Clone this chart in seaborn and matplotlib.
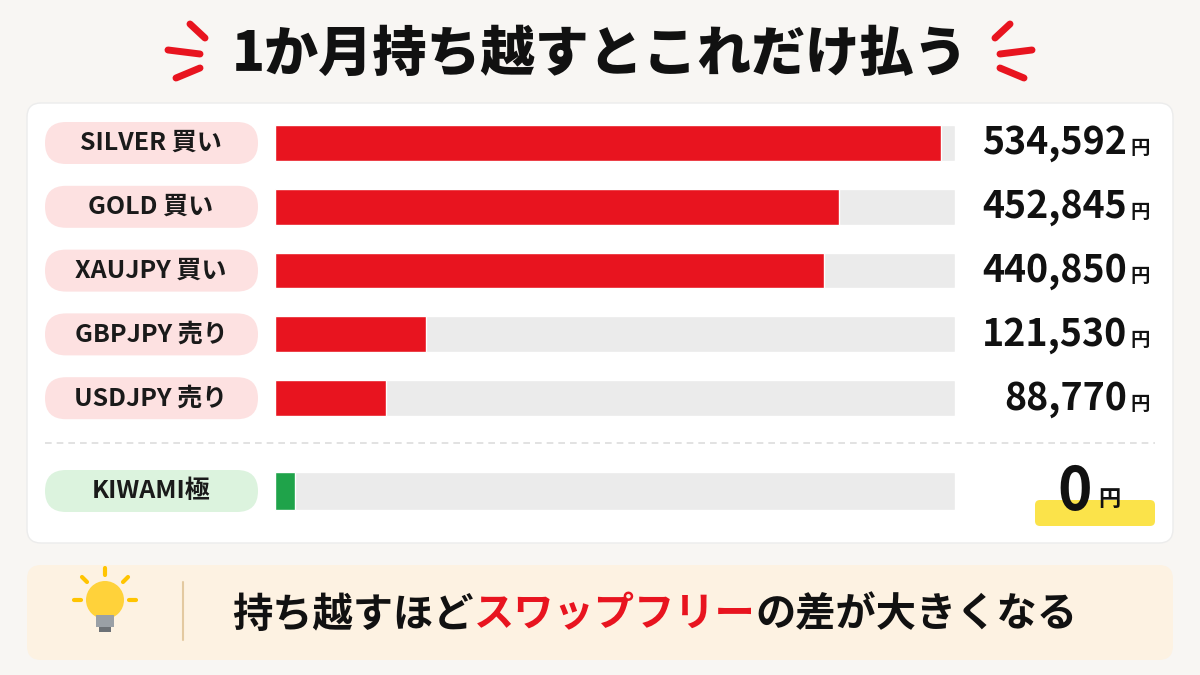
import matplotlib
matplotlib.use('agg')
import matplotlib.pyplot as plt
import seaborn as sns
import pandas as pd
from matplotlib.patches import FancyBboxPatch, Rectangle, Circle

sns.set_theme(style='white')
plt.rcParams['font.family'] = ['Noto Sans CJK JP', 'DejaVu Sans']

# data
labels = ['SILVER 買い', 'GOLD 買い', 'XAUJPY 買い', 'GBPJPY 売り', 'USDJPY 売り']
costs = [534592, 452845, 440850, 121530, 88770]
free_label = 'KIWAMI極'
free_cost = 0
title = '1か月持ち越すとこれだけ払う'
note_parts = ['持ち越すほど', 'スワップフリー', 'の差が大きくなる']

RED = '#e8141f'
TRACK = '#ebebeb'
BG = '#f8f6f3'
track_max = 545800

fig = plt.figure(figsize=(12, 6.75), dpi=100, facecolor=BG)
base = fig.add_axes([0, 0, 1, 1])
base.set_xlim(0, 1200)
base.set_ylim(675, 0)
base.axis('off')

# title and accent strokes
base.text(600, 55, title, ha='center', va='center', fontsize=39, fontweight='black', color='#111111')
for (x0, y0, x1, y1) in [(190, 24, 205, 38), (168, 50, 200, 54), (176, 78, 200, 68)]:
    base.plot([x0, x1], [y0, y1], color=RED, lw=5, solid_capstyle='round')
    base.plot([1200 - x0, 1200 - x1], [y0, y1], color=RED, lw=5, solid_capstyle='round')

# panels
base.add_patch(FancyBboxPatch((27, 103), 1146, 440, boxstyle='round,pad=0,rounding_size=14',
                              fc='white', ec='#ececec', lw=1))
base.add_patch(FancyBboxPatch((27, 565), 1146, 95, boxstyle='round,pad=0,rounding_size=14',
                              fc='#fdf2e2', ec='none'))
base.plot([45, 1155], [443, 443], color='#dddddd', lw=1.2, ls=(0, (4, 3)))

row_y = [143 + i * 63.8 for i in range(5)]

def pill(y, text, fc):
    base.add_patch(FancyBboxPatch((45, y - 21), 213, 42, boxstyle='round,pad=0,rounding_size=21',
                                  fc=fc, ec='none'))
    base.text(151, y, text, ha='center', va='center', fontsize=18, fontweight='bold', color='#1a1a1a')

def value(y, v, big=False):
    if big:
        base.add_patch(FancyBboxPatch((1035, 500), 120, 26, boxstyle='round,pad=0,rounding_size=5',
                                      fc='#fbe34a', ec='none'))
        base.text(1092, y + 2, f'{v:,}', ha='right', va='center', fontsize=42, fontweight='bold', color='#111111')
        base.text(1098, y + 9, '円', ha='left', va='center', fontsize=16, fontweight='bold', color='#111111')
    else:
        base.text(1127, y, f'{v:,}', ha='right', va='center', fontsize=27, fontweight='bold', color='#111111')
        base.text(1130, y + 6, '円', ha='left', va='center', fontsize=14, fontweight='bold', color='#111111')

for y, lab, v in zip(row_y, labels, costs):
    pill(y, lab, '#fde1e1')
    value(y, v)
pill(491, free_label, '#dcf3de')
value(491, free_cost, big=True)

# bars
df = pd.DataFrame({'label': labels, 'cost': costs})
ax = fig.add_axes([275 / 1200, 1 - 430 / 675, 680 / 1200, 319 / 675])
ax.patch.set_alpha(0)
sns.barplot(data=df.assign(track=track_max), x='track', y='label', color=TRACK, width=0.56,
            ax=ax, saturation=1)
sns.barplot(data=df, x='cost', y='label', color=RED, width=0.56, ax=ax, saturation=1)
ax.set_xlim(0, track_max)
ax.axis('off')

ax2 = fig.add_axes([275 / 1200, 1 - 523 / 675, 680 / 1200, 64 / 675])
ax2.patch.set_alpha(0)
fdf = pd.DataFrame({'label': [free_label], 'cost': [free_cost]})
sns.barplot(data=fdf.assign(track=track_max), x='track', y='label', color=TRACK, width=0.6,
            ax=ax2, saturation=1)
# zero cost shown as a small green stub
sns.barplot(data=fdf.assign(stub=fdf['cost'] + track_max * 0.03), x='stub', y='label',
            color='#1fa34a', width=0.6, ax=ax2, saturation=1)
ax2.set_xlim(0, track_max)
ax2.axis('off')

# bulb
base.add_patch(Circle((105, 600), 19, fc='#ffd23a', ec='none'))
base.add_patch(Rectangle((96, 615), 18, 12, fc='#9aa0a6', ec='none'))
base.add_patch(Rectangle((99, 627), 12, 5, fc='#6c7176', ec='none'))
for (x0, y0, x1, y1) in [(105, 568, 105, 575), (74, 600, 81, 600), (129, 600, 136, 600),
                         (82, 577, 87, 582), (128, 577, 123, 582)]:
    base.plot([x0, x1], [y0, y1], color='#ffc400', lw=3, solid_capstyle='round')
base.plot([183, 183], [582, 640], color='#e3c9a0', lw=1.5)

# note text with coloured middle part
fig.canvas.draw()
r = fig.canvas.get_renderer()
x = 232
for part, col in zip(note_parts, ['#111111', RED, '#111111']):
    t = base.text(x, 615, part, ha='left', va='center', fontsize=29, fontweight='bold', color=col)
    bb = t.get_window_extent(r)
    x += bb.width

fig.savefig('out.png', dpi=100, facecolor=BG)
